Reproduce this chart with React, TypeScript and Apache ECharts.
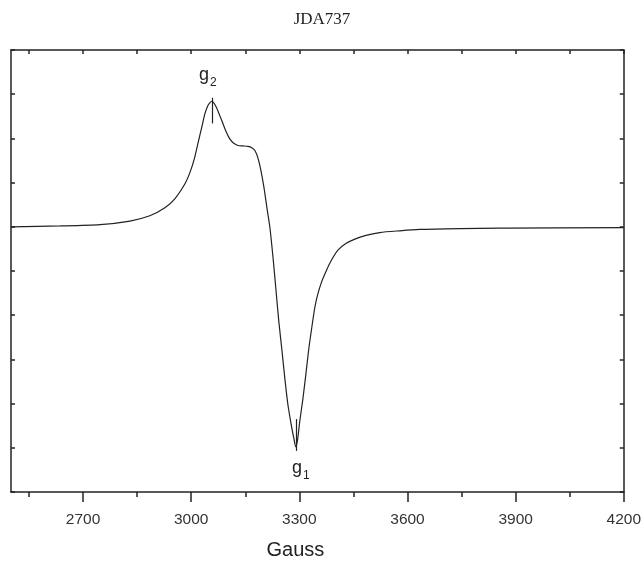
import React, { useEffect, useRef } from "react";
import * as echarts from "echarts";

// Spectrum (field in Gauss, signal in arbitrary units)
const fieldGauss = [
  2500, 2636, 2747, 2830, 2885, 2927, 2955, 2983, 2996, 3008, 3019, 3030, 3038, 3046, 3052,
  3057, 3063, 3070, 3078, 3085, 3096, 3107, 3118, 3130, 3143, 3157, 3168, 3177, 3185, 3193,
  3202, 3210, 3218, 3227, 3235, 3243, 3252, 3260, 3268, 3277, 3285, 3290, 3295, 3301, 3310,
  3318, 3326, 3335, 3343, 3351, 3362, 3376, 3390, 3407, 3429, 3454, 3482, 3523, 3579, 3634,
  3745, 3856, 4200,
];
const signal = [
  0.0, 0.02, 0.05, 0.13, 0.25, 0.43, 0.64, 0.98, 1.22, 1.52, 1.9, 2.28, 2.56, 2.74, 2.81,
  2.84, 2.8, 2.7, 2.54, 2.4, 2.17, 1.99, 1.89, 1.84, 1.83, 1.82, 1.79, 1.72, 1.56, 1.29,
  0.88, 0.43, 0.0, -0.7, -1.42, -2.14, -2.82, -3.45, -4.01, -4.46, -4.8, -4.98, -4.82, -4.41, -3.88,
  -3.34, -2.77, -2.25, -1.82, -1.53, -1.24, -0.97, -0.74, -0.53, -0.38, -0.28, -0.2, -0.13, -0.09, -0.06,
  -0.04, -0.03, -0.02,
];

// Axis ticks
const majorTicks = [2700, 3000, 3300, 3600, 3900, 4200];
const minorTicks = [2550, 2850, 3150, 3450, 3750, 4050];
const topTicks = [2550, 2700, 2850, 3000, 3150, 3300, 3450, 3600, 3750, 3900, 4050, 4200];

// g-value markers
const markerNames = ["2", "1"];
const markerField = [3057, 3290];
const markerTop = [2.92, -4.35];
const markerBottom = [2.34, -5.07];

const title = "JDA737";
const xName = "Gauss";

export default function App() {
  const ref = useRef<HTMLDivElement>(null);
  useEffect(() => {
    if (!ref.current) return;
    const chart = echarts.init(ref.current, null, { renderer: "svg" });
    const axisColor = "#222";
    const rich = {
      a: { fontSize: 18, fontFamily: "Liberation Sans, Arial", color: "#222" },
      b: { fontSize: 12, fontFamily: "Liberation Sans, Arial", color: "#222", padding: [16, 0, 0, 1] },
    };
    const labelPad = [
      [0, 8, 0, 0],
      [0, 0, 0, 10],
    ];
    const labelDist = [10, 2];
    const markData = markerNames.map((n, i) => [
      {
        coord: [markerField[i], markerTop[i]],
        label: {
          show: true,
          position: i === 0 ? "start" : "end",
          formatter: "{a|g}{b|" + n + "}",
          distance: labelDist[i],
          padding: labelPad[i],
          rich,
        },
      },
      { coord: [markerField[i], markerBottom[i]] },
    ]);
    const lineStyle = { color: axisColor, width: 1.5 };
    chart.setOption({
      animation: false,
      title: {
        text: title,
        left: "center",
        top: 5,
        textStyle: { fontFamily: "Liberation Serif, Times New Roman, serif", fontSize: 17, fontWeight: "normal", color: "#222" },
      },
      grid: { left: 11, right: 20, top: 50, bottom: 71, containLabel: false },
      xAxis: [
        {
          type: "value",
          min: 2500,
          max: 4200,
          position: "bottom",
          axisLine: { show: true, onZero: false, lineStyle },
          axisTick: { show: true, customValues: majorTicks, length: 10, lineStyle },
          axisLabel: {
            show: true,
            customValues: majorTicks,
            formatter: (v: number) => String(v),
            fontFamily: "Liberation Sans, Arial",
            fontSize: 15.5,
            color: "#333",
            margin: 18,
          },
          splitLine: { show: false },
          name: xName,
          nameLocation: "middle",
          nameGap: 47,
          nameTextStyle: { fontFamily: "Liberation Sans, Arial", fontSize: 20, color: "#222", padding: [0, 44, 0, 0] },
        },
        {
          type: "value",
          min: 2500,
          max: 4200,
          position: "bottom",
          offset: 0,
          axisLine: { show: false, onZero: false },
          axisTick: { show: true, customValues: minorTicks, length: 5, lineStyle },
          axisLabel: { show: false },
          splitLine: { show: false },
        },
        {
          type: "value",
          min: 2500,
          max: 4200,
          position: "top",
          axisLine: { show: true, onZero: false, lineStyle },
          axisTick: { show: true, inside: true, customValues: topTicks, length: 4, lineStyle },
          axisLabel: { show: false },
          splitLine: { show: false },
        },
      ],
      yAxis: [
        {
          type: "value",
          min: -6,
          max: 4,
          interval: 1,
          position: "left",
          axisLine: { show: true, onZero: false, lineStyle },
          axisTick: { show: true, inside: true, length: 4, lineStyle },
          axisLabel: { show: false },
          splitLine: { show: false },
        },
        {
          type: "value",
          min: -6,
          max: 4,
          interval: 1,
          position: "right",
          axisLine: { show: true, onZero: false, lineStyle },
          axisTick: { show: true, inside: true, length: 4, lineStyle },
          axisLabel: { show: false },
          splitLine: { show: false },
        },
      ],
      series: [
        {
          type: "line",
          xAxisIndex: 0,
          yAxisIndex: 0,
          data: fieldGauss.map((x, i) => [x, signal[i]]),
          showSymbol: false,
          smooth: 0.25,
          lineStyle: { color: "#222", width: 1.2 },
          markLine: {
            silent: true,
            symbol: ["none", "none"],
            lineStyle: { color: "#222", width: 1.2, type: "solid" },
            data: markData,
          },
        },
      ],
    });
    return () => chart.dispose();
  }, []);
  return <div ref={ref} style={{ position: "fixed", left: 0, top: 0, width: 644, height: 564 }} />;
}
